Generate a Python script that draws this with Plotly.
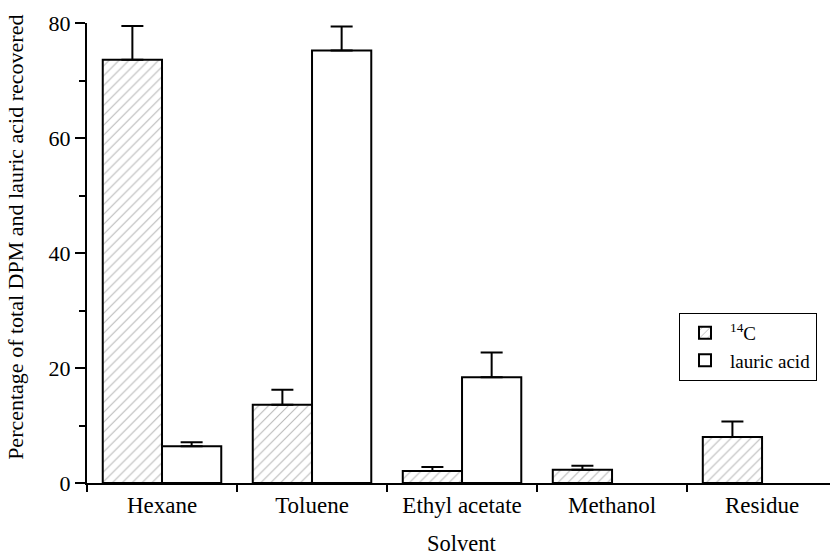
import plotly.graph_objects as go

categories = ["Hexane", "Toluene", "Ethyl acetate", "Methanol", "Residue"]
c14_values = [73.6, 13.6, 2.1, 2.3, 8.0]
c14_errors = [5.9, 2.6, 0.7, 0.7, 2.7]
lauric_values = [6.4, 75.2, 18.4, None, None]
lauric_errors = [0.7, 4.2, 4.3, 0, 0]
y_ticks = [0, 20, 40, 60, 80]

FONT = "Liberation Serif, Times New Roman, serif"

fig = go.Figure()
fig.add_trace(go.Bar(
    x=categories, y=c14_values, name="<sup>14</sup>C",
    marker=dict(color="white", line=dict(color="black", width=2),
                pattern=dict(shape="/", size=7, solidity=0.15,
                             fgcolor="#707070", bgcolor="white")),
    error_y=dict(type="data", array=c14_errors, symmetric=False,
                 arrayminus=[0] * len(c14_errors),
                 color="black", thickness=2, width=11),
))
fig.add_trace(go.Bar(
    x=categories, y=lauric_values, name="lauric acid",
    marker=dict(color="white", line=dict(color="black", width=2)),
    error_y=dict(type="data", array=lauric_errors, symmetric=False,
                 arrayminus=[0] * len(lauric_errors),
                 color="black", thickness=2, width=11),
))

fig.update_layout(
    width=830, height=555,
    margin=dict(l=87, r=0, t=23, b=72),
    paper_bgcolor="white", plot_bgcolor="white",
    barmode="group", bargap=0.21, bargroupgap=0,
    font=dict(family=FONT, size=22, color="black"),
    showlegend=True,
    legend=dict(x=0.9825, xanchor="right", y=0.37, yanchor="top",
                bordercolor="black", borderwidth=1, bgcolor="white",
                font=dict(family=FONT, size=19), tracegroupgap=2,
                itemwidth=40),
    xaxis=dict(
        type="category", range=[-0.5, 4.453],
        showline=True, linecolor="black", linewidth=2,
        tickson="boundaries", ticks="outside", ticklen=7, tickwidth=2,
        tickcolor="black", showgrid=False, zeroline=False,
        tickfont=dict(size=23),
    ),
    xaxis2=dict(
        overlaying="x", anchor="y", range=[-0.5, 4.453],
        tickmode="array", tickvals=[0.5, 1.5, 2.5, 3.5],
        ticks="inside", ticklen=6, tickwidth=2, tickcolor="black",
        showticklabels=False, showline=False, showgrid=False,
        zeroline=False, side="bottom",
    ),
    yaxis=dict(
        range=[0, 80], tickmode="array", tickvals=y_ticks,
        showline=True, linecolor="black", linewidth=2,
        ticks="outside", ticklen=10, tickwidth=2, tickcolor="black",
        minor=dict(dtick=10, ticks="outside", ticklen=6, tickwidth=2,
                   tickcolor="black"),
        showgrid=False, zeroline=False,
        tickfont=dict(size=22),
    ),
    annotations=[
        dict(text="Percentage of total DPM and lauric acid recovered",
             textangle=-90, xref="paper", yref="paper",
             x=-0.0956, y=0.535, xanchor="center", yanchor="middle",
             showarrow=False, font=dict(family=FONT, size=22)),
        dict(text="Solvent", xref="x", yref="paper",
             x=2, y=-0.132, xanchor="center", yanchor="middle",
             showarrow=False, font=dict(family=FONT, size=22.5)),
    ],
)

fig.write_html("out.html")
